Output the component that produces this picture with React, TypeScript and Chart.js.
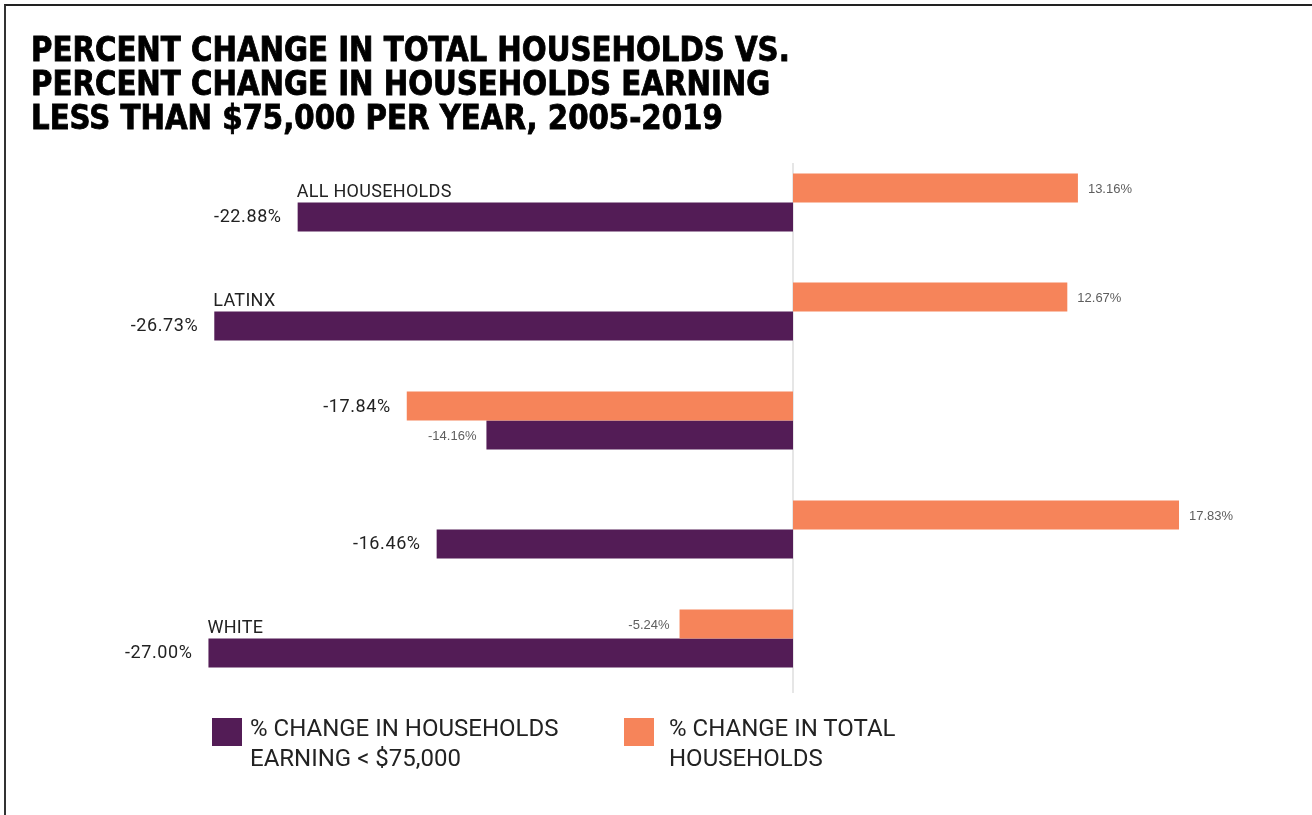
import React, { useEffect, useRef } from "react";
import { Chart, registerables } from "chart.js";

Chart.register(...registerables);

const categories = ["ALL HOUSEHOLDS", "LATINX", "", "", "WHITE"];
const totalHouseholds = [13.16, 12.67, -17.84, 17.83, -5.24];
const under75k = [-22.88, -26.73, -14.16, -16.46, -27.0];
const totalLabelLarge = [false, false, true, false, false];
const under75kLabelLarge = [true, true, false, true, true];

const legendUnder75k = ["% CHANGE IN HOUSEHOLDS", "EARNING < $75,000"];
const legendTotal = ["% CHANGE IN TOTAL", "HOUSEHOLDS"];
const titleLines = [
  "PERCENT CHANGE IN TOTAL HOUSEHOLDS VS.",
  "PERCENT CHANGE IN HOUSEHOLDS EARNING",
  "LESS THAN $75,000 PER YEAR, 2005-2019",
];

const PURPLE = "#531c56";
const ORANGE = "#f6845a";

const fmt = (v: number) => v.toFixed(2) + "%";

const labelsPlugin = {
  id: "customLabels",
  beforeDatasetsDraw(chart: any) {
    const { ctx, chartArea, scales } = chart;
    const x0 = scales.x.getPixelForValue(0);
    ctx.save();
    ctx.strokeStyle = "#e6e6e6";
    ctx.lineWidth = 2;
    ctx.beginPath();
    ctx.moveTo(x0, chartArea.top + 15);
    ctx.lineTo(x0, chartArea.bottom);
    ctx.stroke();
    ctx.restore();
  },
  afterDatasetsDraw(chart: any) {
    const { ctx } = chart;
    ctx.save();
    ctx.textBaseline = "middle";
    const flags = [totalLabelLarge, under75kLabelLarge];
    chart.data.datasets.forEach((ds: any, di: number) => {
      const meta = chart.getDatasetMeta(di);
      meta.data.forEach((el: any, i: number) => {
        const v = ds.data[i] as number;
        const large = flags[di][i];
        const { x, y } = el.getProps(["x", "y"], true);
        if (large) {
          ctx.font = "18px Roboto";
          ctx.fillStyle = "#222";
          (ctx as any).letterSpacing = "0.6px";
        } else {
          ctx.font = "13px 'Liberation Sans', Arial";
          ctx.fillStyle = "#5e5e5e";
          (ctx as any).letterSpacing = "0px";
        }
        const gap = large ? 16 : 10;
        if (v < 0) {
          ctx.textAlign = "right";
          ctx.fillText(fmt(v), x - gap, y + 1);
        } else {
          ctx.textAlign = "left";
          ctx.fillText(fmt(v), x + gap, y + 1);
        }
      });
    });
    // category labels above purple bars
    const meta = chart.getDatasetMeta(1);
    ctx.font = "18px Roboto";
    (ctx as any).letterSpacing = "0.3px";
    ctx.fillStyle = "#222";
    ctx.textAlign = "left";
    ctx.textBaseline = "alphabetic";
    meta.data.forEach((el: any, i: number) => {
      const label = chart.data.labels[i];
      if (!label) return;
      const { x, y, height } = el.getProps(["x", "y", "height"], true);
      ctx.fillText(label, x - 1, y - height / 2 - 6);
    });
    ctx.restore();
  },
};

function LegendItem({ color, lines, boxLeft, textLeft }: any) {
  return (
    <>
      <div
        style={{
          position: "absolute",
          left: boxLeft,
          top: 718,
          width: 30,
          height: 28,
          background: color,
        }}
      />
      <div
        style={{
          position: "absolute",
          left: textLeft,
          top: 713,
          fontFamily: "Roboto, sans-serif",
          fontSize: 24,
          lineHeight: "30px",
          color: "#222",
          whiteSpace: "nowrap",
        }}
      >
        {lines.map((l: string, i: number) => (
          <div key={i}>{l}</div>
        ))}
      </div>
    </>
  );
}

export default function App() {
  const canvasRef = useRef<HTMLCanvasElement>(null);
  useEffect(() => {
    if (!canvasRef.current) return;
    const chart = new Chart(canvasRef.current, {
      type: "bar",
      data: {
        labels: categories,
        datasets: [
          {
            label: legendTotal.join(" "),
            data: totalHouseholds,
            backgroundColor: ORANGE,
            categoryPercentage: 0.532,
            barPercentage: 1,
          },
          {
            label: legendUnder75k.join(" "),
            data: under75k,
            backgroundColor: PURPLE,
            categoryPercentage: 0.532,
            barPercentage: 1,
          },
        ],
      },
      options: {
        indexAxis: "y",
        responsive: false,
        animation: false,
        layout: { padding: { left: 143.5, right: 86, top: 148, bottom: 122 } },
        scales: {
          x: { display: false, min: -30, max: 20 },
          y: { display: false },
        },
        plugins: { legend: { display: false }, tooltip: { enabled: false } },
      } as any,
      plugins: [labelsPlugin],
    });
    return () => chart.destroy();
  }, []);

  return (
    <div
      style={{
        position: "absolute",
        left: 0,
        top: 0,
        width: 1312,
        height: 815,
        background: "#fff",
        overflow: "hidden",
      }}
    >
      <div
        style={{
          position: "absolute",
          left: 4,
          top: 4,
          right: 0,
          bottom: 0,
          borderTop: "2px solid #222",
          borderLeft: "2px solid #333",
        }}
      />
      <canvas
        ref={canvasRef}
        width={1312}
        height={815}
        style={{ position: "absolute", left: 0, top: 0, display: "block" }}
      />
      <div
        style={{
          position: "absolute",
          left: 31,
          top: 33,
          fontFamily: "'Liberation Sans Narrow', 'DejaVu Sans Condensed', sans-serif",
          fontWeight: 700,
          fontSize: 33,
          lineHeight: "34px",
          color: "#000",
          whiteSpace: "nowrap",
          transform: "scaleX(0.985)",
          transformOrigin: "left top",
          WebkitTextStroke: "0.8px #000",
        }}
      >
        {titleLines.map((l, i) => (
          <div key={i}>{l}</div>
        ))}
      </div>
      <LegendItem color={PURPLE} lines={legendUnder75k} boxLeft={212} textLeft={250} />
      <LegendItem color={ORANGE} lines={legendTotal} boxLeft={624} textLeft={669} />
    </div>
  );
}
